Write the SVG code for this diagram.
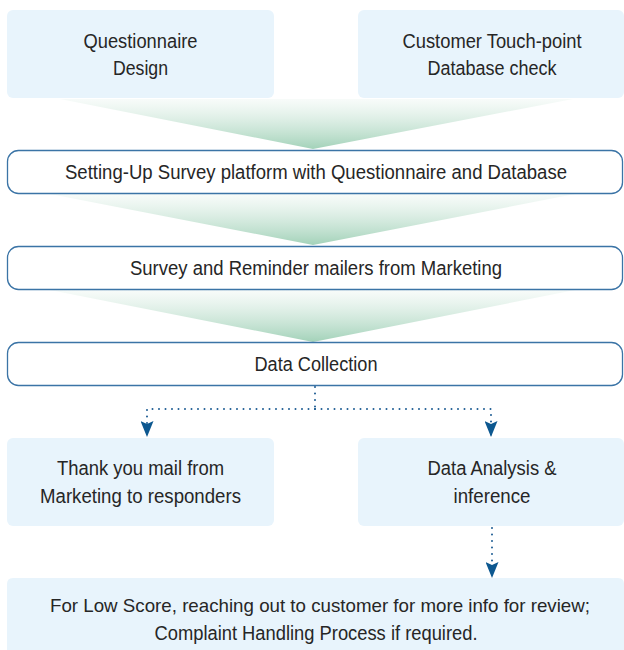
<svg xmlns="http://www.w3.org/2000/svg" width="624" height="650" viewBox="0 0 624 650">
  <defs>
    <style>
      .card { fill: #e8f4fc; }
      .step { fill: #ffffff; stroke: #3b74a6; stroke-width: 1.3; }
      .label { font-family: "Liberation Sans", "Noto Sans", sans-serif; font-size: 20px; fill: #262626; text-anchor: middle; }
      .long { font-size: 19px; }
      .dots { fill: none; stroke: #1d5c93; stroke-width: 2; stroke-dasharray: 0 6.5; stroke-linecap: round; }
      .funnel { fill: url(#fade); }
    </style>
    <linearGradient id="fade" x1="0" y1="0" x2="0" y2="1">
      <stop offset="0" stop-color="#f3f9f6" stop-opacity="0.6"/>
      <stop offset="1" stop-color="#a3d2b9"/>
    </linearGradient>
    <marker id="head" viewBox="0 0 16 13" refX="15" refY="6.5" markerWidth="16" markerHeight="13" markerUnits="userSpaceOnUse" orient="auto">
      <path d="M0,0 L3,6.5 L0,13 L16,6.5 Z" fill="#0d5890"/>
    </marker>
  </defs>

  <!-- tapered funnels between steps -->
  <g id="funnels">
    <polygon class="funnel" points="60,99 573,99 313,149"/>
    <polygon class="funnel" points="50,194 575,194 313,245"/>
    <polygon class="funnel" points="50,290 575,290 313,342"/>
  </g>

  <g id="questionnaire-design">
    <rect class="card" x="7" y="10" width="267" height="88" rx="6"/>
    <text class="label" x="140.5" y="48" textLength="114" lengthAdjust="spacingAndGlyphs">Questionnaire</text>
    <text class="label" x="140.5" y="75" textLength="55" lengthAdjust="spacingAndGlyphs">Design</text>
  </g>

  <g id="touchpoint-check">
    <rect class="card" x="358" y="10" width="266" height="88" rx="6"/>
    <text class="label" x="492" y="48" textLength="179" lengthAdjust="spacingAndGlyphs">Customer Touch-point</text>
    <text class="label" x="492" y="75" textLength="129" lengthAdjust="spacingAndGlyphs">Database check</text>
  </g>

  <g id="setup-platform">
    <rect class="step" x="7.5" y="150.5" width="615" height="43" rx="11"/>
    <text class="label" x="316" y="179" textLength="502" lengthAdjust="spacingAndGlyphs">Setting-Up Survey platform with Questionnaire and Database</text>
  </g>

  <g id="mailers">
    <rect class="step" x="7.5" y="246.5" width="615" height="43" rx="11"/>
    <text class="label" x="316" y="275" textLength="372" lengthAdjust="spacingAndGlyphs">Survey and Reminder mailers from Marketing</text>
  </g>

  <g id="data-collection">
    <rect class="step" x="7.5" y="342.5" width="615" height="43" rx="11"/>
    <text class="label" x="316" y="371" textLength="123" lengthAdjust="spacingAndGlyphs">Data Collection</text>
  </g>

  <g id="thank-you-mail">
    <rect class="card" x="7" y="438" width="267" height="88" rx="6"/>
    <text class="label" x="140.5" y="475" textLength="167" lengthAdjust="spacingAndGlyphs">Thank you mail from</text>
    <text class="label" x="140.5" y="503" textLength="201" lengthAdjust="spacingAndGlyphs">Marketing to responders</text>
  </g>

  <g id="data-analysis">
    <rect class="card" x="358" y="438" width="266" height="88" rx="6"/>
    <text class="label" x="492" y="475" textLength="129" lengthAdjust="spacingAndGlyphs">Data Analysis &amp;</text>
    <text class="label" x="492" y="503" textLength="77" lengthAdjust="spacingAndGlyphs">inference</text>
  </g>

  <g id="low-score-followup">
    <path class="card" d="M13,578 H618 Q624,578 624,584 V650 H7 V584 Q7,578 13,578 Z"/>
    <text class="label long" x="320" y="612" textLength="540" lengthAdjust="spacingAndGlyphs">For Low Score, reaching out to customer for more info for review;</text>
    <text class="label" x="316" y="640" textLength="323" lengthAdjust="spacingAndGlyphs">Complaint Handling Process if required.</text>
  </g>

  <!-- dotted connectors -->
  <g id="connectors">
    <path class="dots" d="M315,387 V409"/>
    <path class="dots" d="M315,409 H147 V436" marker-end="url(#head)"/>
    <path class="dots" d="M315,409 H491 V436" marker-end="url(#head)"/>
    <path class="dots" d="M492,528 V577" marker-end="url(#head)"/>
  </g>
</svg>
